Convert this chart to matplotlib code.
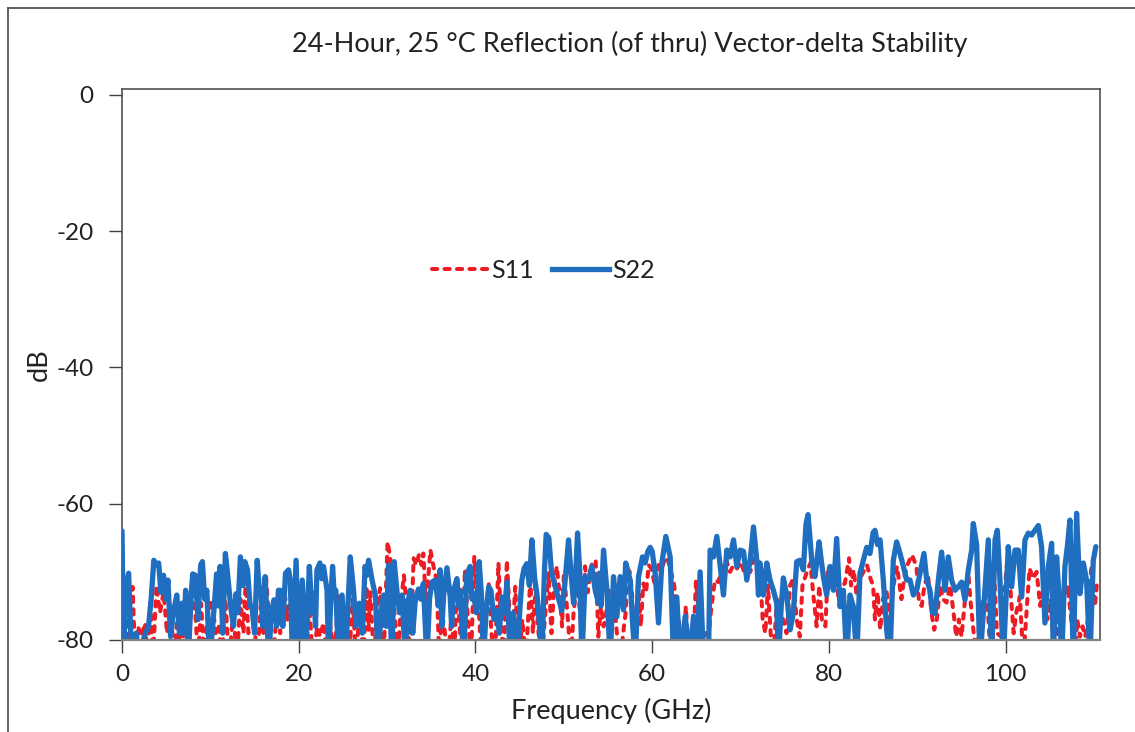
import matplotlib
matplotlib.use("Agg")
import matplotlib.pyplot as plt
from matplotlib.lines import Line2D

# ---------------- data ----------------
title = "24-Hour, 25 \u00b0C Reflection (of thru) Vector-delta Stability"
x_label = "Frequency (GHz)"
y_label = "dB"
x_ticks = [0, 20, 40, 60, 80, 100]
y_ticks = [0, -20, -40, -60, -80]
series_names = ["S11", "S22"]

# S22 (blue, solid) : frequency (GHz) and value (dB)
f_s22 = [0.0, 0.2, 0.4, 0.75, 1.1, 1.6, 2.0, 2.5, 3.0, 3.3, 3.6, 3.9, 4.15, 4.4, 4.7, 4.95,
         5.2, 5.5, 5.8, 6.2, 6.5, 6.8, 7.0, 7.2, 7.5, 7.8, 8.0, 8.3, 8.6, 8.9, 9.1, 9.35,
         9.6, 9.9, 10.2, 10.5, 10.7, 10.9, 11.1, 11.4, 11.7, 12.0, 12.3, 12.6, 12.9, 13.1,
         13.4, 13.7, 13.9, 14.2, 14.5, 14.7, 15.0, 15.3, 15.5, 15.7, 15.95, 16.2, 16.6, 16.9,
         17.2, 17.5, 17.7,
         17.9, 18.2, 18.5, 18.85, 19.04, 19.3, 19.7, 20.0, 20.4, 20.74, 21.2, 21.5, 21.7, 21.9,
         22.06, 22.4, 22.6, 22.8, 23.2, 23.38, 23.6, 23.83, 24.0, 24.2, 24.5, 24.9, 25.3, 25.6,
         25.83, 26.2, 26.5, 26.85, 27.2, 27.5, 27.7, 27.9, 28.3, 28.66, 29.0, 29.3, 29.6, 29.9,
         30.17, 30.54, 30.8, 31.1, 31.4, 31.7, 32.05, 32.3, 32.6, 32.9, 33.2, 33.56, 33.8, 34.1,
         34.5, 34.8, 35.07, 35.45,
         35.8, 36.0, 36.2, 36.4, 36.77, 37.14, 37.3, 37.52, 37.9, 38.1, 38.27, 38.65, 39.03, 39.4,
         39.6, 39.78, 40.1, 40.42, 40.7, 40.9, 41.2, 41.5, 41.74, 42.1, 42.42, 42.7, 42.99, 43.3,
         43.55, 43.93, 44.3, 44.68, 45.0, 45.25, 45.5, 45.8, 46.1, 46.38, 46.7, 46.95, 47.2, 47.51,
         47.8, 48.0, 48.3, 48.6, 48.83, 49.2, 49.77, 50.1, 50.53, 50.8, 51.1, 51.35, 51.55, 51.8,
         52.04, 52.41, 52.79, 53.17, 53.55, 53.92,
         54.0, 54.2, 54.49, 54.87, 55.24, 55.62, 56.0, 56.37, 56.75, 57.0, 57.5, 57.8, 58.07, 58.45,
         58.9, 59.2, 59.5, 59.77, 60.0, 60.33, 60.71, 61.09, 61.54, 62.03, 62.41, 62.78, 63.16, 63.73,
         64.29, 64.67, 65.05, 65.42, 65.8, 66.37, 66.55, 66.93, 67.31, 67.69, 68.06, 68.44, 68.82, 69.2,
         69.57, 69.95, 70.33, 70.7, 71.08, 71.46, 71.83, 72.02,
         72.2, 72.58, 72.96, 73.33, 73.71, 74.09, 74.28, 74.6, 74.84, 75.22, 75.6, 75.97, 76.35, 76.73,
         77.1, 77.4, 77.63, 77.85, 78.05, 78.42, 78.88, 79.1, 79.37, 79.74, 80.12, 80.5, 80.87, 81.25,
         81.63, 82.0, 82.38, 82.76, 83.14, 83.51, 83.89, 84.27, 84.64, 85.0, 85.21, 85.5, 85.78, 86.15,
         86.53, 86.9, 87.28, 87.66, 88.04, 88.42, 88.79, 89.17, 89.55, 89.92,
         90.3, 90.75, 91.06, 91.43, 91.7, 92.0, 92.38, 92.75, 93.13, 93.5, 93.88, 94.26, 94.64, 95.01,
         95.39, 95.77, 96.15, 96.33, 96.71, 97.09, 97.47, 98.03, 98.41, 98.79, 99.05, 99.35, 99.73,
         100.29, 100.67, 101.05, 101.42, 101.8, 102.18, 102.56, 102.93, 103.31, 103.69, 104.06,
         104.44, 104.82, 105.2, 105.38, 105.76, 106.1, 106.33, 106.7, 107.0, 107.27, 107.65, 108.02,
         108.4, 108.78, 109.15, 109.53, 109.91, 110.2]
s22 = [-64.0, -83.0, -72.5, -70.2, -83.0, -79.0, -83.0, -79.5, -78.0, -74.0, -68.3, -69.0, -68.7, -73.0, -70.5, -74.0,
       -71.2, -79.5, -76.0, -73.4, -79.0, -74.6, -79.0, -72.7, -83.0, -74.0, -70.3, -70.5, -77.0, -69.0, -68.5, -74.0,
       -72.7, -83.0, -79.0, -74.0, -70.3, -75.0, -69.2, -79.0, -67.3, -71.0, -75.1, -78.0, -73.2, -76.0,
       -67.8, -72.0, -68.5, -69.7, -75.0, -75.1, -79.0, -68.3, -72.0, -72.7, -78.0, -70.7, -83.0, -76.0,
       -74.1, -78.0, -72.7,
       -72.7, -78.0, -70.2, -69.7, -71.2, -83.0, -68.3, -83.0, -71.2, -83.0, -69.2, -76.0, -73.2, -78.0,
       -69.7, -68.7, -71.0, -69.2, -72.7, -83.0, -75.0, -69.2, -73.0, -72.7, -83.0, -73.4, -83.0, -74.0,
       -67.8, -72.7, -78.0, -74.6, -79.0, -69.2, -70.5, -68.3, -71.2, -73.4, -83.0, -76.0, -73.4, -78.0,
       -69.0, -83.0, -68.5, -72.7, -76.0, -73.4, -83.0, -75.0, -72.7, -79.0, -74.0, -72.5, -74.0, -71.7,
       -83.0, -74.0, -71.5, -71.2,
       -75.0, -69.7, -78.0, -73.4, -69.4, -73.7, -78.0, -72.7, -71.0, -75.0, -72.7, -83.0, -70.3, -69.2,
       -74.0, -73.2, -76.0, -68.5, -74.0, -83.0, -76.0, -72.2, -72.7, -77.0, -75.7, -79.0, -73.7, -76.0,
       -71.5, -83.0, -76.0, -83.0, -76.0, -71.2, -69.5, -68.8, -72.0, -65.3, -71.0, -73.2, -77.0, -83.0,
       -70.0, -64.5, -65.0, -70.0, -71.2, -73.0, -75.7, -72.0, -65.3, -70.0, -74.6, -70.0, -64.3, -70.0,
       -83.0, -70.7, -71.2, -69.2, -72.7, -74.6,
       -70.2, -75.0, -66.8, -72.7, -83.0, -70.7, -76.6, -70.7, -75.6, -68.7, -71.2, -78.0, -83.0, -70.7,
       -67.8, -68.7, -67.0, -66.4, -67.0, -70.2, -77.5, -68.7, -64.8, -67.8, -83.0, -73.7, -83.0, -76.5,
       -83.0, -76.5, -83.0, -70.0, -83.0, -83.0, -66.8, -67.8, -64.8, -69.2, -73.4, -66.8, -67.8, -65.3,
       -69.2, -66.8, -67.0, -71.2, -68.3, -63.4, -68.3, -73.4,
       -68.7, -73.4, -68.7, -71.2, -72.7, -74.6, -83.0, -75.0, -70.9, -73.4, -78.5, -76.0, -68.5, -68.3,
       -69.7, -63.0, -61.6, -65.0, -68.3, -70.7, -65.6, -68.0, -70.7, -73.4, -69.2, -72.7, -65.1, -75.1,
       -72.7, -83.0, -73.4, -75.1, -83.0, -70.2, -68.3, -66.4, -67.3, -64.2, -63.9, -66.0, -65.3, -71.2,
       -78.5, -83.0, -68.3, -65.6, -67.3, -69.2, -71.2, -71.2, -73.4, -72.7,
       -70.2, -67.3, -71.2, -72.7, -76.0, -76.1, -71.2, -67.1, -72.7, -67.8, -71.2, -72.7, -72.2, -71.5,
       -74.1, -69.7, -66.8, -62.9, -66.0, -83.0, -76.0, -65.3, -83.0, -65.3, -63.9, -71.2, -83.0,
       -66.3, -72.2, -66.8, -66.8, -73.7, -65.3, -64.3, -64.6, -63.9, -63.2, -66.3,
       -77.5, -69.2, -65.8, -83.0, -67.8, -75.0, -83.0, -69.2, -66.0, -62.4, -83.0, -61.4,
       -73.2, -68.7, -71.2, -83.0, -68.3, -66.3]

# S11 (red, dashed) : frequency (GHz) and value (dB)
f_s11 = [0.0, 0.4, 0.8, 1.2, 1.5, 1.8, 2.2, 2.6, 2.9, 3.2, 3.5, 3.9, 4.3, 4.7, 5.1, 5.5, 5.9, 6.3,
         6.7, 7.1, 7.5, 7.9, 8.3, 8.6, 8.95, 9.3, 9.7, 10.2, 10.6, 10.95, 11.3, 11.7, 12.1, 12.6,
         13.0, 13.4, 13.75, 14.0, 14.3, 14.6, 15.0, 15.3, 15.7, 16.0, 16.3, 16.7, 17.1, 17.5,
         17.9, 18.1, 18.4, 18.7, 18.85, 19.1, 19.35, 19.6, 20.0, 20.4, 20.8, 21.2, 21.6, 22.1,
         22.4, 22.8, 23.2, 23.6, 24.0, 24.5, 24.9, 25.3, 25.7, 26.1, 26.5, 26.9, 27.3, 27.7,
         27.9, 28.1, 28.5, 28.9, 29.2, 29.6, 30.05, 30.35, 30.6, 30.9, 31.2, 31.6, 31.9, 32.2,
         32.6, 33.0, 33.3, 33.6, 33.9, 34.1, 34.4, 34.9, 35.25, 35.6,
         35.9, 36.2, 36.5, 36.9, 37.3, 37.6, 37.9, 38.2, 38.5, 38.8, 39.1, 39.5, 39.86, 40.1,
         40.35, 40.7, 41.1, 41.5, 41.8, 42.2, 42.6, 42.9, 43.2, 43.55, 43.9, 44.2, 44.5, 44.9,
         45.3, 45.7, 46.2, 46.5, 46.8, 47.1, 47.5, 47.9, 48.27, 48.6, 48.9, 49.2, 49.5, 49.8,
         50.0, 50.4, 50.8, 51.1, 51.5, 51.9, 52.1, 52.4, 52.7, 53.0, 53.2, 53.6, 53.9,
         54.2, 54.5, 54.8, 55.05, 55.4, 55.6, 56.0, 56.4, 56.8, 57.0, 57.2, 57.45, 57.7, 58.0,
         58.4, 58.7, 59.0, 59.3, 59.6, 59.9, 60.3, 60.7, 61.1, 61.5, 61.8, 62.1, 62.4, 62.6,
         63.0, 63.4, 63.8, 64.2, 64.6, 64.95, 65.2, 65.5, 66.0, 66.4, 66.7, 67.1, 67.5, 67.9,
         68.4, 68.8, 69.2, 69.6, 70.0, 70.4, 70.7, 71.1, 71.5, 71.85,
         72.2, 72.5, 72.8, 73.1, 73.4, 73.7, 74.1, 74.5, 74.8, 75.2, 75.6, 75.95, 76.35, 76.7,
         77.0, 77.5, 77.9, 78.2, 78.6, 78.9, 79.2, 79.6, 79.9, 80.3, 80.7, 81.1, 81.5, 81.8,
         82.27, 82.5, 82.8, 83.1, 83.5, 83.9, 84.3, 84.7, 85.0, 85.2, 85.5, 85.8, 86.1, 86.5,
         86.9, 87.3, 87.7, 88.0, 88.2, 88.5, 88.8, 89.4, 89.9,
         90.2, 90.5, 90.8, 91.2, 91.6, 91.9, 92.2, 92.6, 92.9, 93.3, 93.7, 94.1, 94.4, 94.7,
         95.0, 95.4, 95.77, 96.0, 96.3, 96.7, 97.1, 97.65, 98.0, 98.3, 98.6, 98.8, 99.0, 99.5,
         100.1, 100.5, 100.9, 101.2, 101.6, 102.0, 102.4, 102.7, 103.1, 103.5, 103.9, 104.3,
         104.7, 105.1, 105.5, 105.8, 106.2, 106.6, 107.0, 107.5, 107.8, 108.1, 108.4, 108.7,
         109.0, 109.3, 109.7, 110.1, 110.3]
s11 = [-83.0, -83.0, -76.0, -72.2, -83.0, -78.0, -79.5, -77.5, -83.0, -74.0, -83.0, -72.0, -76.0, -73.0, -79.0, -75.0, -83.0, -76.0,
       -83.0, -77.0, -83.0, -73.0, -76.0, -83.0, -74.6, -83.0, -76.0, -74.1, -79.0, -78.0, -83.0, -74.0, -83.0, -76.0,
       -83.0, -74.0, -79.0, -71.2, -79.0, -78.5, -78.0, -83.0, -75.0, -79.0, -70.7, -78.0, -83.0, -76.0,
       -79.0, -75.0, -72.7, -77.0, -75.0, -76.0, -77.5, -79.0, -83.0, -76.0, -83.0, -75.0, -83.0, -78.0,
       -79.5, -77.5, -83.0, -78.0, -83.0, -73.6, -83.0, -76.0, -83.0, -74.0, -83.0, -75.0, -83.0, -72.2,
       -78.5, -73.0, -83.0, -75.0, -72.4, -83.0, -65.6, -67.8, -73.0, -77.0, -83.0, -74.0, -70.5, -75.0,
       -83.0, -68.0, -69.0, -67.5, -69.0, -67.3, -75.0, -66.8, -69.2, -71.2,
       -83.0, -76.0, -78.5, -83.0, -76.0, -83.0, -70.7, -78.0, -83.0, -69.7, -76.0, -83.0, -67.8, -72.0,
       -75.0, -83.0, -77.0, -71.7, -79.0, -83.0, -68.7, -78.0, -83.0, -68.3, -77.0, -79.0, -72.2, -83.0,
       -77.0, -83.0, -71.2, -79.0, -72.0, -78.5, -83.0, -76.0, -70.2, -79.0, -72.0, -69.2, -73.0, -78.0,
       -70.2, -76.0, -83.0, -76.0, -71.2, -77.0, -83.0, -69.2, -73.0, -70.0, -68.7, -68.3, -79.5,
       -75.0, -78.0, -76.0, -72.7, -79.0, -72.7, -79.0, -83.0, -78.0, -76.0, -69.5, -70.0, -72.7, -83.0,
       -71.2, -78.0, -71.7, -73.0, -69.0, -69.5, -72.0, -69.0, -69.5, -67.8, -68.3, -70.0, -71.2, -73.2,
       -77.0, -83.0, -75.1, -83.0, -83.0, -71.2, -75.0, -83.0, -79.0, -79.0, -75.1, -71.2, -71.5, -68.7,
       -68.3, -70.0, -69.0, -69.5, -68.5, -70.0, -69.5, -70.0, -68.0, -68.3,
       -70.0, -77.0, -79.0, -72.0, -79.0, -83.0, -74.0, -76.0, -77.0, -79.0, -72.0, -71.0, -77.0, -79.5,
       -72.0, -70.0, -68.7, -73.0, -78.0, -72.0, -77.0, -78.0, -69.2, -71.0, -70.0, -74.0, -72.0, -71.7,
       -68.0, -72.0, -69.7, -73.2, -71.0, -70.0, -69.0, -71.0, -72.0, -77.0, -73.0, -78.5, -74.0, -72.7,
       -77.0, -72.0, -69.2, -72.0, -74.0, -71.0, -69.2, -67.5, -69.2,
       -74.6, -75.0, -72.0, -70.3, -76.0, -78.5, -77.0, -72.0, -74.0, -74.5, -72.0, -76.0, -79.5, -77.0,
       -79.5, -74.0, -70.2, -74.0, -78.0, -83.0, -76.0, -73.2, -76.0, -83.0, -68.7, -73.0, -79.0, -79.5,
       -69.2, -72.0, -79.0, -76.0, -73.6, -83.0, -75.0, -69.5, -71.0, -70.0, -75.0, -72.2,
       -77.0, -74.0, -83.0, -76.0, -83.0, -74.0, -72.0, -78.0, -83.0, -77.0, -79.5, -78.0,
       -79.5, -77.0, -69.2, -75.0, -72.0]

# ---------------- styling ----------------
plt.rcParams['font.family'] = ['Lato', 'DejaVu Sans']
plt.rcParams['axes.unicode_minus'] = False
text_color = '#222222'
red = '#ed1c24'
blue = '#1f6ebf'
red_style = (0, (1.3, 1.8))

W, H = 1135, 732
fig = plt.figure(figsize=(W / 100, H / 100), dpi=100)
ax = fig.add_axes([122 / W, 1 - 640 / H, (1100 - 122) / W, (640 - 89) / H])

ax.plot(f_s11, s11, color=red, lw=2.9, linestyle=red_style,
        dash_capstyle='round', solid_joinstyle='round', label=series_names[0], zorder=2)
ax.plot(f_s22, s22, color=blue, lw=3.8, solid_joinstyle='round',
        solid_capstyle='round', label=series_names[1], zorder=3)

ax.set_xlim(0, 110.67)
ax.set_ylim(-80, 0.88)
ax.set_xticks(x_ticks)
ax.set_yticks(y_ticks)
ax.tick_params(axis='both', direction='out', length=9.5, width=1.0, color='#404040',
               labelsize=17.5, labelcolor=text_color)
ax.tick_params(axis='y', pad=11)
ax.tick_params(axis='x', pad=8)

for side in ['left', 'top', 'right']:
    ax.spines[side].set_color('#505050')
    ax.spines[side].set_linewidth(1.2)
ax.spines['bottom'].set_color('#808080')
ax.spines['bottom'].set_linewidth(1.6)
ax.spines['bottom'].set_zorder(4)

ax.set_xlabel(x_label, fontsize=19.5, color=text_color, labelpad=9)
ax.set_ylabel(y_label, fontsize=19.5, color=text_color, labelpad=3)

fig.text(630 / W, 1 - 44 / H, title, ha='center', va='center', fontsize=19.5, color=text_color)

handles = [Line2D([], [], color=red, lw=2.9, linestyle=red_style, dash_capstyle='round'),
           Line2D([], [], color=blue, lw=3.8)]
fig.legend(handles, series_names, loc='center', bbox_to_anchor=(543 / W, 1 - 270 / H),
           ncol=2, frameon=False, fontsize=18, handlelength=2.3, handletextpad=0.1,
           columnspacing=0.7, labelcolor=text_color)

# outer frame (left and top edges visible)
fig.add_artist(Line2D([7.5 / W, 7.5 / W], [0, 1 - 7.5 / H], transform=fig.transFigure,
                      color='#555555', lw=1.3))
fig.add_artist(Line2D([7.5 / W, 1], [1 - 7.5 / H, 1 - 7.5 / H], transform=fig.transFigure,
                      color='#555555', lw=1.3))

fig.savefig('out.png', dpi=100)
